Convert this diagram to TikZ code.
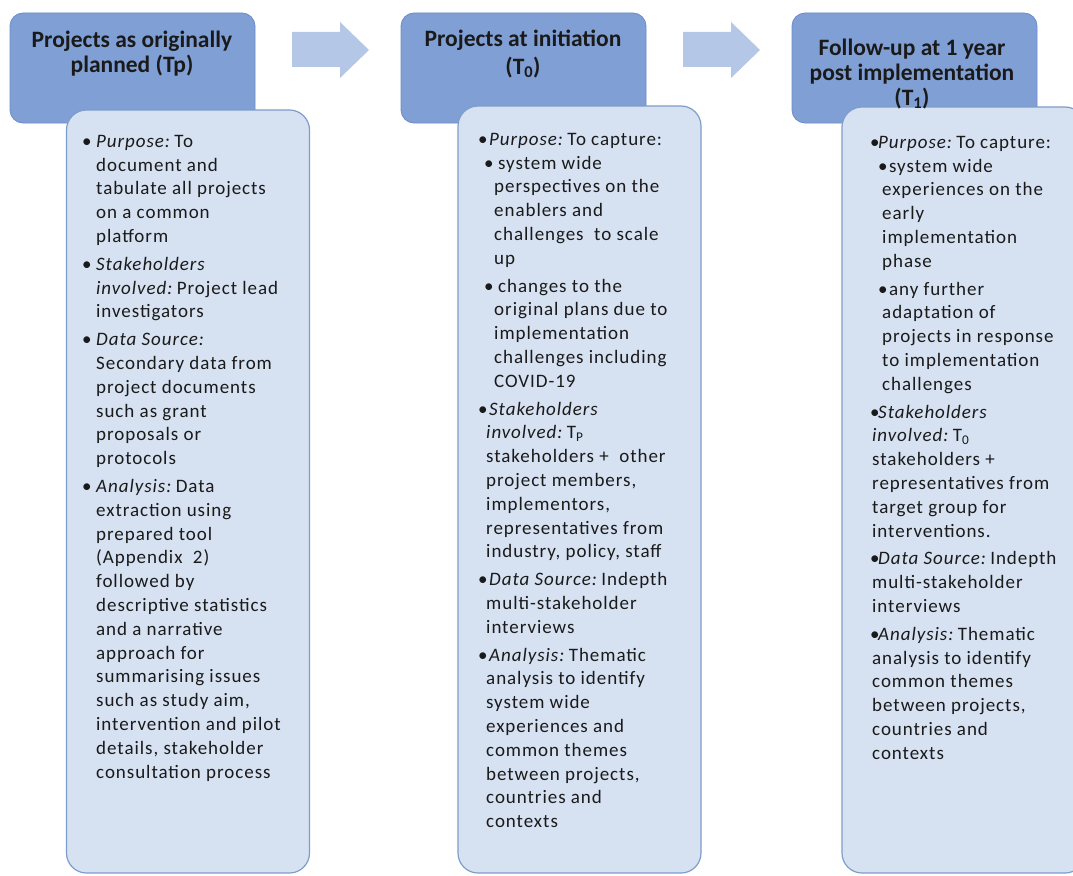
\documentclass[tikz,border=0pt]{standalone}
\usepackage{fontspec}
\setmainfont{Carlito}
\newfontfamily\bodyfont{Carlito}[LetterSpace=5]

\definecolor{hdrfill}{HTML}{809FD5}
\definecolor{hdrline}{HTML}{6C8CC6}
\definecolor{bodyfill}{HTML}{D6E1F2}
\definecolor{bodyline}{HTML}{7E9DCB}
\definecolor{arrfill}{HTML}{B4C7E7}
\definecolor{txt}{HTML}{1A1A1A}

\newcommand\Bul[1]{\makebox[#1][l]{•}}
\newcommand\Ind[1]{\hspace*{#1}}
\newcommand\Lab[1]{\textit{#1}\hspace{3.5pt}}

\begin{document}
\begin{tikzpicture}[x=1pt,y=-1pt,
  hdr/.style={draw=hdrline, fill=hdrfill, rounded corners=13pt, line width=0.8pt,
    minimum width=245pt, minimum height=110pt, inner sep=0pt},
  bodybox/.style={draw=bodyline, fill=bodyfill, rounded corners=20pt, line width=1.2pt,
    minimum width=243pt, inner sep=0pt},
  blockarrow/.style={fill=arrfill, draw=none},
  hdrtext/.style={align=center, inner sep=0pt, anchor=north,
    font=\fontsize{23.5}{25}\selectfont\bfseries, text=txt},
  bodytext/.style={align=left, inner sep=0pt, anchor=north west,
    font=\bodyfont\fontsize{19}{23.8}\selectfont, text=txt}
]
\useasboundingbox (0,0) rectangle (1073,875);
\fill[white] (0,0) rectangle (1073,875);

% headers
\node[hdr] (h1) at (132.5,68) {};
\node[hdr] (h2) at (523.5,68) {};
\node[hdr] (h3) at (914.5,68) {};

% block arrows
\fill[blockarrow] (292,32) -- (340,32) -- (340,22) -- (369,50) -- (340,78) -- (340,67) -- (292,67) -- cycle;
\fill[blockarrow] (683,32) -- (731,32) -- (731,22) -- (760,50) -- (731,78) -- (731,67) -- (683,67) -- cycle;

% bodies
\node[bodybox, minimum height=763pt] (b1) at (188,491.5) {};
\node[bodybox, minimum height=767pt] (b2) at (579.5,489.5) {};
\node[bodybox, minimum height=766pt] (b3) at (963.5,490) {};

% header texts
\node[hdrtext] (ht1) at (132,30) {\rule{0pt}{17pt}Projects as originally\\planned (Tp)};
\node[hdrtext] (ht2) at (523,29) {\rule{0pt}{17pt}Projects at initiation\\[3pt](T\textsubscript{0})};
\node[hdrtext] (ht3) at (912,38) {\rule{0pt}{17pt}Follow-up at 1 year\\post implementation\\(T\textsubscript{1})};

% body texts
\node[bodytext] (t1) at (82,129) {\rule{0pt}{18pt}%
\Bul{14pt}\Lab{Purpose:}To\\
\Ind{14pt}document and\\
\Ind{14pt}tabulate all projects\\
\Ind{14pt}on a common\\
\Ind{14pt}platform\\[4pt]
\Bul{14pt}\textit{Stakeholders}\\
\Ind{14pt}\Lab{involved:}Project lead\\
\Ind{14pt}investigators\\[4pt]
\Bul{14pt}\textit{Data Source:}\\
\Ind{14pt}Secondary data from\\
\Ind{14pt}project documents\\
\Ind{14pt}such as grant\\
\Ind{14pt}proposals or\\
\Ind{14pt}protocols\\[4pt]
\Bul{14pt}\Lab{Analysis:}Data\\
\Ind{14pt}extraction using\\
\Ind{14pt}prepared tool\\
\Ind{14pt}(Appendix\ \ 2)\\
\Ind{14pt}followed by\\
\Ind{14pt}descriptive statistics\\
\Ind{14pt}and a narrative\\
\Ind{14pt}approach for\\
\Ind{14pt}summarising issues\\
\Ind{14pt}such as study aim,\\
\Ind{14pt}intervention and pilot\\
\Ind{14pt}details, stakeholder\\
\Ind{14pt}consultation process};

\node[bodytext] (t2) at (478,127) {\rule{0pt}{18pt}%
\Bul{11pt}\Lab{Purpose:}To capture:\\
\Ind{6pt}\Bul{14pt}system wide\\
\Ind{16pt}perspectives on the\\
\Ind{16pt}enablers and\\
\Ind{16pt}challenges\ \ to scale\\
\Ind{16pt}up\\[4pt]
\Ind{6pt}\Bul{14pt}changes to the\\
\Ind{16pt}original plans due to\\
\Ind{16pt}implementation\\
\Ind{16pt}challenges including\\
\Ind{16pt}COVID-19\\[4pt]
\Bul{11pt}\textit{Stakeholders}\\
\Ind{8pt}\Lab{involved:}T\textsubscript{P}\\
\Ind{8pt}stakeholders +\ \ other\\
\Ind{8pt}project members,\\
\Ind{8pt}implementors,\\
\Ind{8pt}representatives from\\
\Ind{8pt}industry, policy, staff\\[4pt]
\Bul{11pt}\Lab{Data Source:}Indepth\\
\Ind{8pt}multi-stakeholder\\
\Ind{8pt}interviews\\[4pt]
\Bul{11pt}\Lab{Analysis:}Thematic\\
\Ind{8pt}analysis to identify\\
\Ind{8pt}system wide\\
\Ind{8pt}experiences and\\
\Ind{8pt}common themes\\
\Ind{8pt}between projects,\\
\Ind{8pt}countries and\\
\Ind{8pt}contexts};

\node[bodytext] (t3) at (870,130) {\rule{0pt}{18pt}%
\Bul{8pt}\Lab{Purpose:}To capture:\\
\Ind{8pt}\Bul{11pt}system wide\\
\Ind{12pt}experiences on the\\
\Ind{12pt}early\\
\Ind{12pt}implementation\\
\Ind{12pt}phase\\[4pt]
\Ind{8pt}\Bul{11pt}any further\\
\Ind{12pt}adaptation of\\
\Ind{12pt}projects in response\\
\Ind{12pt}to implementation\\
\Ind{12pt}challenges\\[4pt]
\Bul{8pt}\textit{Stakeholders}\\
\Ind{2pt}\Lab{involved:}T\textsubscript{0}\\
\Ind{2pt}stakeholders +\\
\Ind{2pt}representatives from\\
\Ind{2pt}target group for\\
\Ind{2pt}interventions.\\[4pt]
\Bul{8pt}\Lab{Data Source:}Indepth\\
\Ind{2pt}multi-stakeholder\\
\Ind{2pt}interviews\\[4pt]
\Bul{8pt}\Lab{Analysis:}Thematic\\
\Ind{2pt}analysis to identify\\
\Ind{2pt}common themes\\
\Ind{2pt}between projects,\\
\Ind{2pt}countries and\\
\Ind{2pt}contexts};
\end{tikzpicture}
\end{document}
